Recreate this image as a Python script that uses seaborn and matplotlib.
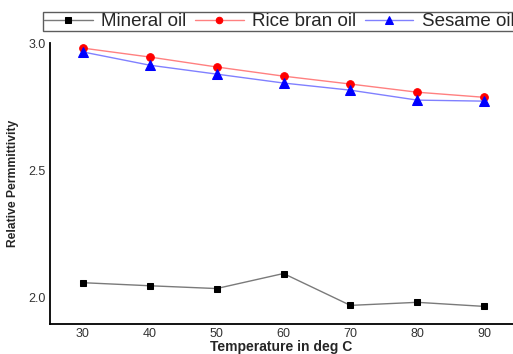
import matplotlib
matplotlib.use("Agg")
import matplotlib.pyplot as plt
import seaborn as sns
import pandas as pd

temperature = [30, 40, 50, 60, 70, 80, 90]
mineral_oil = [2.060, 2.048, 2.037, 2.096, 1.971, 1.983, 1.967]
rice_bran_oil = [2.980, 2.945, 2.906, 2.870, 2.839, 2.807, 2.787]
sesame_oil = [2.965, 2.913, 2.878, 2.843, 2.815, 2.776, 2.772]
series_names = ["Mineral oil", "Rice bran oil", "Sesame oil"]
y_ticks = [2.0, 2.5, 3.0]
x_ticks = [30, 40, 50, 60, 70, 80, 90]

sns.set_style("white")
plt.rcParams["font.family"] = ["Liberation Sans", "DejaVu Sans"]

fig = plt.figure(figsize=(5.13, 3.54), dpi=100)
ax = fig.add_axes([50/513, 1-324/354, 1-50/513, (324-43)/354])

styles = [
    (mineral_oil, "#7a7a7a", "black", "s", 5),
    (rice_bran_oil, "#ff8080", "red", "o", 5.5),
    (sesame_oil, "#8080ff", "blue", "^", 6.5),
]
for name, (vals, lc, mc, mk, ms) in zip(series_names, styles):
    df = pd.DataFrame({"T": temperature, "v": vals})
    sns.lineplot(data=df, x="T", y="v", ax=ax, color=lc, lw=1.0,
                 marker=mk, markersize=ms, markerfacecolor=mc,
                 markeredgecolor=mc, label=name, legend=False)

ax.set_xlim(25.1, 94.3)
ax.set_ylim(1.898, 3.0)
ax.set_xticks(x_ticks)
ax.set_yticks(y_ticks)
ax.set_xticklabels([str(t) for t in x_ticks])
ax.set_yticklabels([f"{t:.1f}" for t in y_ticks])
ax.tick_params(axis="both", length=0, labelsize=9, labelcolor="#333333", pad=3)
for s in ["top", "right"]:
    ax.spines[s].set_visible(False)
for s in ["left", "bottom"]:
    ax.spines[s].set_color("black")
    ax.spines[s].set_linewidth(1.3)
ax.set_xlabel("Temperature in deg C", fontsize=10, fontweight="bold", labelpad=0)
ax.set_ylabel("Relative Permmittivity", fontsize=8.7, fontweight="bold", labelpad=7)

handles = ax.get_lines()[:3]
leg = fig.legend(handles, series_names, loc="upper left",
                 bbox_to_anchor=(43/513, 1-12/354), ncol=3, fontsize=13.5,
                 frameon=True, fancybox=False, edgecolor="#333333",
                 borderpad=0.05, handlelength=2.6, handletextpad=0.45,
                 columnspacing=0.45, borderaxespad=0, markerscale=0.85)
leg.get_frame().set_linewidth(1.0)

fig.savefig("out.png", dpi=100)
